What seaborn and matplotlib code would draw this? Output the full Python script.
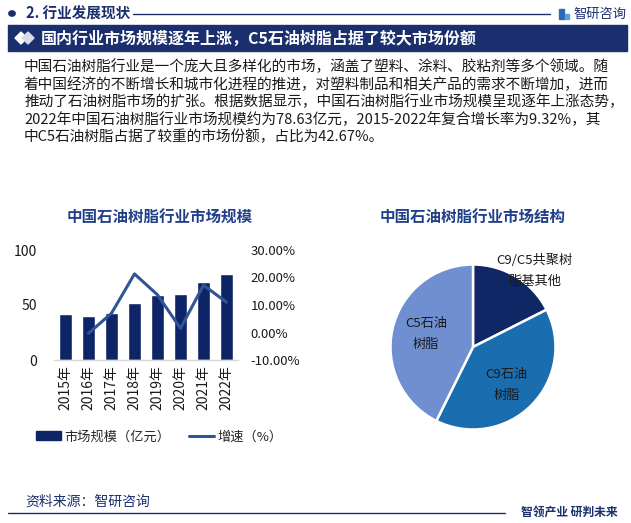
import matplotlib
matplotlib.use("Agg")
import matplotlib.pyplot as plt
from matplotlib.patches import Rectangle, Circle, Polygon, Patch
from matplotlib.lines import Line2D
import seaborn as sns
import pandas as pd

# ---------------- data ----------------
years = ["2015年", "2016年", "2017年", "2018年", "2019年", "2020年", "2021年", "2022年"]
market_size = [42.2, 40.0, 42.6, 51.7, 59.0, 59.9, 70.8, 78.63]      # 亿元
growth_years = ["2016年", "2017年", "2018年", "2019年", "2020年", "2021年", "2022年"]
growth = [-0.3, 7.0, 21.3, 13.7, 1.5, 17.2, 11.0]                      # %
left_ticks = [0, 50, 100]
right_ticks = [-10, 0, 10, 20, 30]

pie_labels = ["C9/C5共聚树\n脂基其他", "C9石油\n树脂", "C5石油\n树脂"]
pie_values = [17.53, 39.80, 42.67]

header_small = "2. 行业发展现状"
header_title = "国内行业市场规模逐年上涨，C5石油树脂占据了较大市场份额"
paragraph = [
    "中国石油树脂行业是一个庞大且多样化的市场，涵盖了塑料、涂料、胶粘剂等多个领域。随",
    "着中国经济的不断增长和城市化进程的推进，对塑料制品和相关产品的需求不断增加，进而",
    "推动了石油树脂市场的扩张。根据数据显示，中国石油树脂行业市场规模呈现逐年上涨态势，",
    "2022年中国石油树脂行业市场规模约为78.63亿元，2015-2022年复合增长率为9.32%，其",
    "中C5石油树脂占据了较重的市场份额，占比为42.67%。",
]
bar_title = "中国石油树脂行业市场规模"
pie_title = "中国石油树脂行业市场结构"
legend_labels = ["市场规模（亿元）", "增速（%）"]
source_text = "资料来源：智研咨询"
slogan = "智领产业 研判未来"
logo_text = "智研咨询"

# ---------------- style ----------------
sns.set_theme(style="white")
plt.rcParams["font.family"] = ["Noto Sans CJK SC", "DejaVu Sans"]
plt.rcParams["axes.unicode_minus"] = False

NAVY = "#1B2F6E"
BAR = "#0D2566"
LINE = "#2F5597"
TITLE_BLUE = "#22408A"
PIE_COLORS = ["#0F2764", "#1A6DAE", "#6F8FD1"]
TXT = "#1A1A1A"

W, H = 631, 523
fig = plt.figure(figsize=(W / 100, H / 100), dpi=100)
fig.patch.set_facecolor("white")


def fx(x):
    return x / W


def fy(y):
    return 1 - y / H


# ---------------- header ----------------
fig.patches.append(Circle((fx(12), fy(13.5)), 3.2 / W, transform=fig.transFigure,
                          color=NAVY, zorder=3))
fig.text(fx(26), fy(14), header_small, fontsize=10.5, fontweight="bold", color=NAVY,
         va="center", ha="left")
fig.lines.append(Line2D([fx(133), fx(550)], [fy(14), fy(14)], transform=fig.transFigure,
                        color=NAVY, lw=1.0))
# logo icon
fig.patches.append(Rectangle((fx(559), fy(19)), 5 / W, 10 / H, transform=fig.transFigure,
                             color="#2A6BB8"))
fig.patches.append(Rectangle((fx(565), fy(19)), 4 / W, 5 / H, transform=fig.transFigure,
                             color="#5AA0DC"))
fig.text(fx(573), fy(14), logo_text, fontsize=9.5, color=NAVY, va="center", ha="left")

# title band
fig.patches.append(Rectangle((fx(8), fy(51)), (627 - 8) / W, 26 / H, transform=fig.transFigure,
                             color=NAVY, zorder=1))
fig.patches.append(Polygon([[fx(15), fy(38)], [fx(21), fy(32)], [fx(27), fy(38)], [fx(21), fy(44)]],
                           closed=True, transform=fig.transFigure, color="white", zorder=2))
fig.patches.append(Polygon([[fx(22), fy(38)], [fx(28), fy(32)], [fx(34), fy(38)], [fx(28), fy(44)]],
                           closed=True, transform=fig.transFigure, color="#D8DCE8", zorder=2))
fig.text(fx(41), fy(38.5), header_title, fontsize=11.5, fontweight="bold", color="white",
         va="center", ha="left", zorder=3)

# paragraph
for i, line in enumerate(paragraph):
    fig.text(fx(24), fy(67 + i * 17.5), line, fontsize=10.55, color=TXT, va="center", ha="left")

# ---------------- bar + line chart ----------------
ax = fig.add_axes([fx(54), fy(360), (238 - 54) / W, 110 / H])
df = pd.DataFrame({"year": years, "size": market_size})
sns.barplot(data=df, x="year", y="size", color=BAR, saturation=1, width=0.55, ax=ax)
ax.set_xlim(-0.5, len(years) - 0.5)
ax.set_ylim(0, 100)
ax.set_yticks(left_ticks)
ax.set_yticklabels([str(t) for t in left_ticks])
ax.set_xlabel("")
ax.set_ylabel("")
ax.tick_params(axis="y", length=0, pad=12, labelsize=10, colors=TXT)
ax.tick_params(axis="x", length=0, pad=4, labelsize=10, colors=TXT)
for lab in ax.get_xticklabels():
    lab.set_rotation(90)
    lab.set_va("top")
    lab.set_ha("center")
for s in ["top", "right", "left"]:
    ax.spines[s].set_visible(False)
ax.spines["bottom"].set_color("#D9D9D9")
ax.spines["bottom"].set_linewidth(1.0)
ax.patch.set_alpha(0)

ax2 = ax.twinx()
gdf = pd.DataFrame({"pos": [years.index(y) for y in growth_years], "growth": growth})
sns.lineplot(data=gdf, x="pos", y="growth", color=LINE, lw=2.2, ax=ax2)
ax2.set_xlim(-0.5, len(years) - 0.5)
ax2.set_ylim(-10, 30)
ax2.set_yticks(right_ticks)
ax2.set_yticklabels([f"{t:.2f}%" for t in right_ticks])
ax2.set_ylabel("")
ax2.tick_params(axis="y", length=0, pad=9, labelsize=9.5, colors=TXT)
for s in ["top", "right", "left", "bottom"]:
    ax2.spines[s].set_visible(False)

fig.text(fx(160), fy(218), bar_title, fontsize=11.2, fontweight="bold", color=TITLE_BLUE,
         ha="center", va="center")

handles = [Patch(facecolor=BAR, edgecolor=BAR), Line2D([0], [0], color=LINE, lw=2.2)]
fig.legend(handles, legend_labels, loc="center left", bbox_to_anchor=(fx(36), fy(437)),
           frameon=False, ncol=2, fontsize=9.5, handlelength=1.9, handleheight=0.65,
           handletextpad=0.25, columnspacing=1.4, borderpad=0, borderaxespad=0)

# ---------------- pie chart ----------------
R = 82.5
pax = fig.add_axes([fx(473 - R), fy(347 + R), 2 * R / W, 2 * R / H])
wedges, texts = pax.pie(pie_values, labels=pie_labels, colors=PIE_COLORS, startangle=90,
                        counterclock=False, labeldistance=0.6,
                        wedgeprops=dict(edgecolor="white", linewidth=1.8),
                        textprops=dict(fontsize=9.5, color=TXT, ha="center", va="center",
                                       linespacing=1.8))
texts[0].set_position((0.75, 0.92))
texts[1].set_position((0.41, -0.46))
texts[2].set_position((-0.57, 0.16))
pax.set_xlim(-1, 1)
pax.set_ylim(-1, 1)
pax.set_aspect("equal")
pax.axis("off")

fig.text(fx(473), fy(217), pie_title, fontsize=11.2, fontweight="bold", color=TITLE_BLUE,
         ha="center", va="center")

# ---------------- footer ----------------
fig.text(fx(25), fy(502), source_text, fontsize=10, color=NAVY, va="center", ha="left")
fig.lines.append(Line2D([fx(8), fx(505)], [fy(513), fy(513)], transform=fig.transFigure,
                        color=NAVY, lw=1.0))
fig.text(fx(618), fy(513), slogan, fontsize=8.5, fontweight="bold", color=NAVY,
         va="center", ha="right")

fig.savefig("out.png", dpi=100, facecolor="white")
